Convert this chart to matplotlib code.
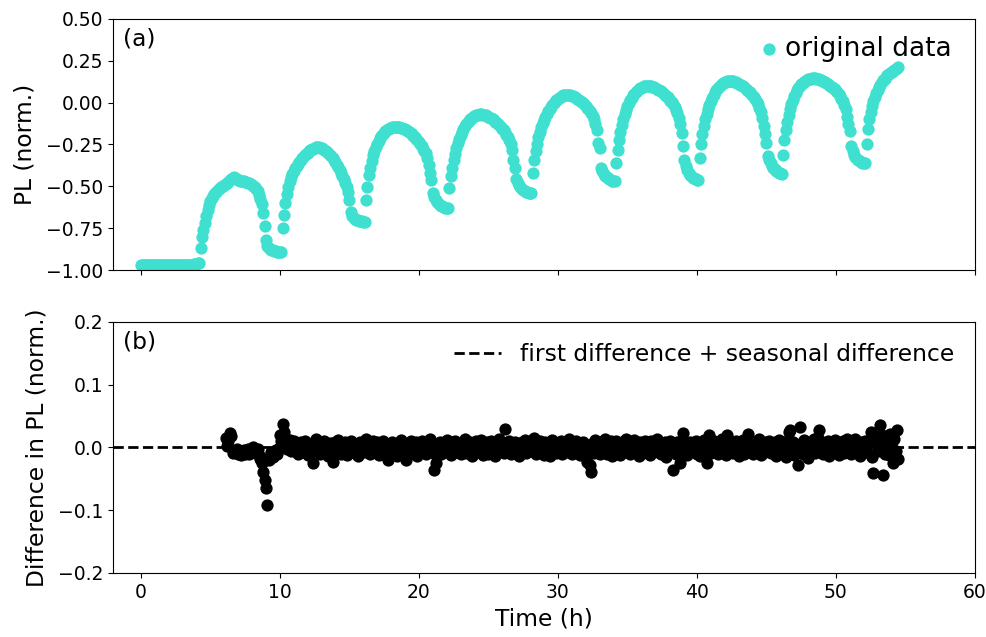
import numpy as np
import matplotlib
matplotlib.use('Agg')
import matplotlib.pyplot as plt

# PL signal (normalised), sampled every 0.1 h starting at t = 0
dt = 0.1
pl_flat = [-0.970] * 36 + [-0.969, -0.968, -0.967, -0.965, -0.963, -0.960, -0.957]
pl_cycle1 = [-0.870, -0.800, -0.760, -0.720, -0.680, -0.640, -0.610, -0.585, -0.570, -0.555,
             -0.545, -0.535, -0.525, -0.518, -0.510, -0.505, -0.500, -0.495, -0.488, -0.480,
             -0.472, -0.463, -0.455, -0.448, -0.445, -0.448, -0.455, -0.462, -0.468, -0.470,
             -0.470, -0.470, -0.472, -0.475, -0.478, -0.482, -0.487, -0.492, -0.498, -0.505,
             -0.515, -0.530, -0.550, -0.575, -0.605, -0.660, -0.740, -0.820, -0.855, -0.868,
             -0.875, -0.880, -0.883, -0.886, -0.888, -0.890, -0.892, -0.893, -0.890]
pl_cycle2 = [-0.750, -0.670, -0.600, -0.545, -0.505, -0.470, -0.445, -0.425, -0.408, -0.392,
             -0.378, -0.365, -0.353, -0.342, -0.332, -0.322, -0.313, -0.305, -0.298, -0.291,
             -0.285, -0.279, -0.274, -0.270, -0.267, -0.265, -0.266, -0.268, -0.271, -0.275,
             -0.280, -0.286, -0.293, -0.301, -0.310, -0.320, -0.331, -0.343, -0.356, -0.370,
             -0.385, -0.401, -0.418, -0.436, -0.456, -0.478, -0.503, -0.535, -0.580, -0.655,
             -0.680, -0.690, -0.695, -0.700, -0.703, -0.706, -0.708, -0.710, -0.712, -0.713]
pl_cycle3 = [-0.580, -0.505, -0.435, -0.390, -0.350, -0.315, -0.288, -0.265, -0.245, -0.228,
             -0.213, -0.200, -0.189, -0.179, -0.170, -0.163, -0.157, -0.152, -0.149, -0.146,
             -0.144, -0.143, -0.143, -0.144, -0.146, -0.149, -0.152, -0.156, -0.160, -0.165,
             -0.170, -0.176, -0.183, -0.190, -0.198, -0.207, -0.216, -0.226, -0.237, -0.249,
             -0.261, -0.274, -0.288, -0.300, -0.330, -0.370, -0.420, -0.460, -0.540, -0.565,
             -0.580, -0.592, -0.601, -0.609, -0.615, -0.620, -0.624, -0.627, -0.630, -0.632]
pl_cycle4 = [-0.510, -0.440, -0.390, -0.345, -0.305, -0.270, -0.240, -0.215, -0.193, -0.174,
             -0.157, -0.142, -0.129, -0.117, -0.107, -0.098, -0.091, -0.085, -0.080, -0.076,
             -0.073, -0.071, -0.070, -0.070, -0.071, -0.073, -0.076, -0.080, -0.084, -0.089,
             -0.094, -0.100, -0.106, -0.113, -0.120, -0.128, -0.136, -0.145, -0.155, -0.166,
             -0.178, -0.191, -0.205, -0.222, -0.245, -0.280, -0.340, -0.390, -0.455, -0.480,
             -0.495, -0.505, -0.514, -0.521, -0.527, -0.532, -0.536, -0.539, -0.541, -0.542]
pl_cycle5 = [-0.420, -0.345, -0.290, -0.245, -0.205, -0.175, -0.148, -0.124, -0.103, -0.084,
             -0.067, -0.052, -0.038, -0.026, -0.015, -0.004, 0.006, 0.015, 0.023, 0.030,
             0.036, 0.041, 0.044, 0.046, 0.047, 0.047, 0.046, 0.044, 0.041, 0.038,
             0.034, 0.029, 0.024, 0.018, 0.012, 0.005, -0.003, -0.011, -0.020, -0.029,
             -0.039, -0.050, -0.063, -0.078, -0.097, -0.125, -0.165, -0.240, -0.270, -0.390,
             -0.410, -0.425, -0.437, -0.446, -0.453, -0.459, -0.463, -0.466, -0.468, -0.470]
pl_cycle6 = [-0.360, -0.285, -0.225, -0.175, -0.133, -0.098, -0.068, -0.043, -0.021, -0.002,
             0.015, 0.030, 0.043, 0.054, 0.064, 0.072, 0.079, 0.085, 0.090, 0.094,
             0.097, 0.099, 0.100, 0.100, 0.099, 0.097, 0.094, 0.091, 0.087, 0.083,
             0.078, 0.073, 0.067, 0.061, 0.054, 0.047, 0.039, 0.031, 0.022, 0.012,
             0.001, -0.011, -0.025, -0.042, -0.062, -0.090, -0.130, -0.180, -0.260, -0.340,
             -0.380, -0.405, -0.420, -0.432, -0.441, -0.448, -0.453, -0.457, -0.460, -0.462]
pl_cycle7 = [-0.330, -0.250, -0.190, -0.140, -0.100, -0.066, -0.037, -0.012, 0.010, 0.029,
             0.046, 0.061, 0.074, 0.085, 0.095, 0.103, 0.110, 0.116, 0.121, 0.125,
             0.128, 0.130, 0.130, 0.129, 0.127, 0.124, 0.121, 0.117, 0.113, 0.108,
             0.103, 0.097, 0.091, 0.084, 0.077, 0.069, 0.061, 0.052, 0.042, 0.031,
             0.019, 0.005, -0.011, -0.030, -0.055, -0.090, -0.140, -0.190, -0.240, -0.320,
             -0.345, -0.362, -0.376, -0.388, -0.398, -0.406, -0.413, -0.418, -0.422, -0.425]
pl_cycle8 = [-0.310, -0.225, -0.165, -0.115, -0.075, -0.040, -0.010, 0.016, 0.038, 0.057,
             0.073, 0.087, 0.099, 0.109, 0.117, 0.124, 0.130, 0.135, 0.139, 0.142,
             0.144, 0.145, 0.145, 0.145, 0.144, 0.142, 0.139, 0.136, 0.132, 0.128,
             0.124, 0.119, 0.114, 0.108, 0.102, 0.095, 0.088, 0.080, 0.071, 0.061,
             0.050, 0.038, 0.024, 0.008, -0.012, -0.040, -0.085, -0.130, -0.170, -0.260,
             -0.290, -0.310, -0.324, -0.335, -0.343, -0.349, -0.354, -0.358, -0.361, -0.363]
pl_cycle9 = [-0.250, -0.160, -0.100, -0.055, -0.020, 0.010, 0.035, 0.057, 0.076, 0.093,
             0.108, 0.121, 0.133, 0.144, 0.154, 0.163, 0.171, 0.178, 0.185, 0.191,
             0.197, 0.203, 0.209, 0.215]

# first difference + seasonal difference (units of 1e-3), from t = 6.1 h on
diff_milli = [
    15, 2, 10, 23, 18, -9, -5, -8, -2, -10,
    -6, -12, -9, -4, -10, -7, -3, -11, -5, -2,
    0, -5, -9, -3, -12, -18, -25, -39, -52, -65,
    -92, -20, -14, -8, -15, -6, -4, -10, -2, 20,
    10, 38, 25, 5, -3, 8, 12, -6, 3, 10,
    -4, 6, -10, 2, 9, -7, 0, 11, -3, -12,
    5, -9, 3, -25, 8, 14, -5, 1, -11, 6,
    -2, 10, -8, 4, -14, 7, -3, -23, 2, 9,
    -6, 12, -1, -10, 5, -4, 8, -12, 3, -7,
    11, -5, 2, -9, 6, -13, 0, 9, -6, 4,
    -8, 13, -3, 5, -11, 2, 10, -7, -1, 8,
    -12, 4, -5, 11, -2, -9, 6, -20, 3, -4,
    9, -7, 1, -14, 7, -3, 12, -8, 2, -10,
    -20, 5, -4, 10, -9, 3, -1, 8, -13, 6,
    -3, 11, -7, 2, -11, 7, -5, 13, -2, -9,
    -36, -25, 4, -6, 9, -10, 1, 6, -4, 12,
    -7, 3, -12, 8, -2, 10, -8, 0, 5, -11,
    7, -4, 13, -9, 2, -6, 9, -14, 4, -1,
    10, -8, 3, -5, 12, -12, 6, -2, 8, -10,
    1, 11, -7, 4, -13, 7, -3, 14, -6, 2,
    -9, 30, 5, -4, 10, -11, 3, -7, 9, -2,
    6, -13, 1, 8, -5, 12, -9, 2, -3, 10,
    -6, 4, 15, -10, 7, -1, 11, -8, 3, -12,
    9, -3, 6, -14, 2, 12, -6, 0, -9, 7,
    -4, 10, -11, 5, -2, 8, -7, 13, -1, -10,
    3, -8, 11, -5, 6, -12, 1, 9, -3, -15,
    -23, 4, -28, -39, 7, -9, 12, -2, 5, -11,
    8, -6, 2, 13, -10, 4, -4, 10, -13, 1,
    -7, 11, -2, 6, -12, 9, -5, 3, 14, -8,
    2, -10, 7, -3, 12, -6, 0, -14, 8, 5,
    -9, 4, 11, -7, 1, -12, 10, -4, 6, -2,
    13, -8, 3, -11, 7, -1, 9, -15, 2, -5,
    10, -6, -36, 4, -10, 8, -3, -25, 12, 23,
    -4, 6, -12, 1, 9, -8, 3, -2, 11, -10,
    5, -13, 7, -1, 12, -7, -25, 4, 20, -9,
    2, 10, -6, 8, -11, 3, -4, 14, -8, 1,
    -12, 20, 6, -3, 9, -9, 2, 11, -5, -14,
    7, -2, 12, -10, 4, -6, 22, -1, 8, -11,
    3, -8, 10, -4, 13, -12, 1, 6, -7, 9,
    -3, 11, -9, 5, -1, 8, -13, 2, 12, -6,
    4, -10, 7, -15, 10, 25, 28, -5, 9, -12,
    6, -8, -28, 33, 2, -11, 12, -3, 7, -16,
    1, 9, -6, 13, -9, 3, 15, 28, -4, 8,
    -11, 5, -2, 10, -14, 7, -7, 2, 12, -5,
    8, -12, 4, -3, 11, -9, 1, 14, -6, 3,
    -10, 7, -1, 13, -8, 5, -13, 9, -4, 2,
    11, -7, 6, 10, 25, -15, -41, 18, 8, -5,
    12, 36, 20, -44, -10, 15, 5, -12, 22, 9,
    -25, 14, -6, 28, -18,
]

pl = np.array(pl_flat + pl_cycle1 + pl_cycle2 + pl_cycle3 + pl_cycle4
              + pl_cycle5 + pl_cycle6 + pl_cycle7 + pl_cycle8 + pl_cycle9)
t = np.arange(len(pl)) * dt
diff = np.array(diff_milli) / 1000.0
t_diff = t[len(t) - len(diff):]

fig, (ax1, ax2) = plt.subplots(2, 1, sharex=True, figsize=(9.87, 6.37), dpi=100)
fig.subplots_adjust(left=0.1145, right=0.9878, top=0.9702, bottom=0.1005, hspace=0.207)

lab_fs = 16.8
tick_fs = 13.5

# (a) original data
ax1.scatter(t, pl, s=78, color='turquoise', linewidths=0, label='original data')
ax1.set_ylim(-1.0, 0.5)
ax1.set_yticks([-1.0, -0.75, -0.5, -0.25, 0.0, 0.25, 0.5])
ax1.set_ylabel('PL (norm.)', fontsize=lab_fs, labelpad=7)
ax1.text(0.012, 0.965, '(a)', transform=ax1.transAxes, ha='left', va='top', fontsize=lab_fs)
ax1.legend(loc='upper right', bbox_to_anchor=(1.0, 1.028), frameon=False, fontsize=19,
           handlelength=0.6, handletextpad=0.3, scatterpoints=1)

# (b) differenced data
ax2.scatter(t_diff, diff, s=78, color='black', linewidths=0)
ax2.axhline(0, color='black', ls='--', lw=2, label='first difference + seasonal difference')
ax2.set_ylim(-0.2, 0.2)
ax2.set_yticks([-0.2, -0.1, 0.0, 0.1, 0.2])
ax2.set_ylabel('Difference in PL (norm.)', fontsize=lab_fs, labelpad=7)
ax2.set_xlabel('Time (h)', fontsize=lab_fs)
ax2.text(0.012, 0.965, '(b)', transform=ax2.transAxes, ha='left', va='top', fontsize=lab_fs)
ax2.legend(loc='upper right', frameon=False, fontsize=lab_fs)

ax2.set_xlim(-2, 60)
ax2.set_xticks([0, 10, 20, 30, 40, 50, 60])
for ax in (ax1, ax2):
    ax.tick_params(labelsize=tick_fs)

fig.savefig('out.png', dpi=100)
